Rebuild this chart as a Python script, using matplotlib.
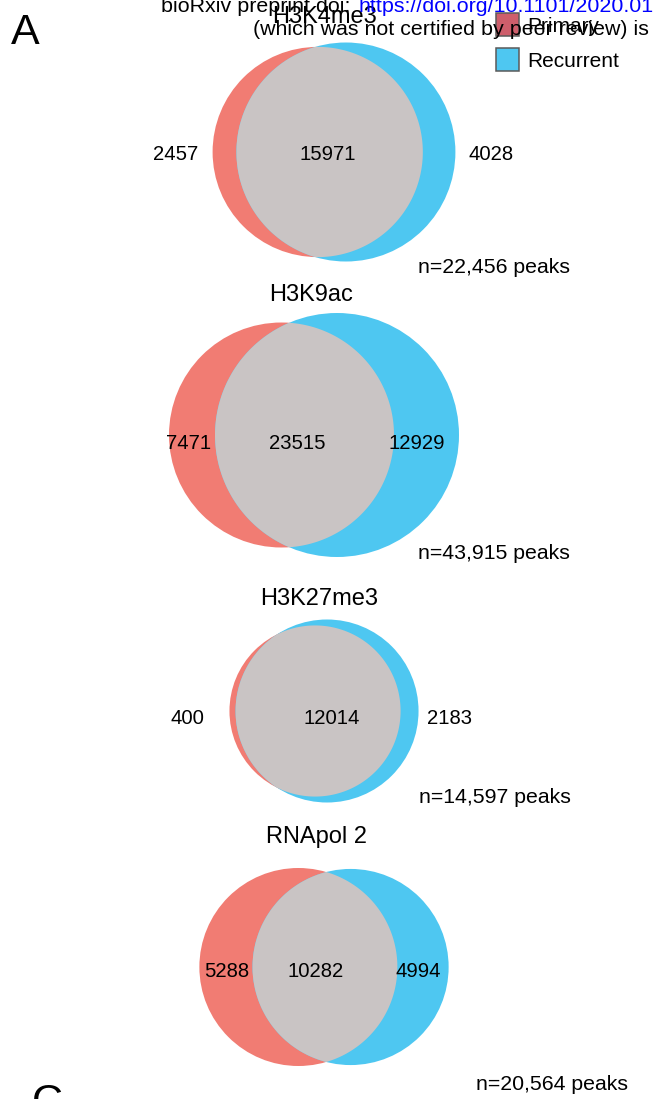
import numpy as np
import matplotlib
matplotlib.use("Agg")
import matplotlib.pyplot as plt
from matplotlib.patches import Circle, Polygon, Rectangle

plt.rcParams["font.family"] = ["Liberation Sans", "DejaVu Sans"]

# peak overlap counts for each mark (primary vs recurrent)
marks = ["H3K4me3", "H3K9ac", "H3K27me3", "RNApol 2"]
primary_only = [2457, 7471, 400, 5288]
shared = [15971, 23515, 12014, 10282]
recurrent_only = [4028, 12929, 2183, 4994]
group_names = ["Primary", "Recurrent"]

RED = "#F17C73"
BLUE = "#4EC7F1"
GREY = "#C9C4C4"
DPI = 100

# layout in pixels (y grows downwards)
panel_xy = [(334, 152), (314, 435), (324, 711), (324, 967)]
panel_h = [219, 244, 183, 198]
title_xy = [(324, 15), (311, 293), (319, 597), (316, 835)]
count_x = [(176, 328, 491), (189, 297, 417), (187, 332, 449), (227, 316, 418)]
count_y = [153, 442, 717, 970]
n_xy = [(418, 265), (418, 551), (419, 795), (476, 1082)]


def lens_area(r1, r2, d):
    if d >= r1 + r2:
        return 0.0
    if d <= abs(r1 - r2):
        return np.pi * min(r1, r2) ** 2
    a1 = r1 ** 2 * np.arccos((d ** 2 + r1 ** 2 - r2 ** 2) / (2 * d * r1))
    a2 = r2 ** 2 * np.arccos((d ** 2 + r2 ** 2 - r1 ** 2) / (2 * d * r2))
    k = np.sqrt((-d + r1 + r2) * (d + r1 - r2) * (d - r1 + r2) * (d + r1 + r2))
    return a1 + a2 - 0.5 * k


def venn_geometry(a_only, both, b_only):
    # area proportional circles, distance found by bisection
    r1 = np.sqrt((a_only + both) / np.pi)
    r2 = np.sqrt((b_only + both) / np.pi)
    lo, hi = abs(r1 - r2), r1 + r2
    for _ in range(100):
        mid = 0.5 * (lo + hi)
        if lens_area(r1, r2, mid) > both:
            lo = mid
        else:
            hi = mid
    return r1, r2, 0.5 * (lo + hi)


def cap_text(ax, x, y, s, fs, **kw):
    # place text by the middle of its capital letters
    ax.text(x, y + 0.358 * fs * DPI / 72, s, fontsize=fs, va="baseline", **kw)


fig = plt.figure(figsize=(6.53, 10.99), dpi=DPI)
ax = fig.add_axes([0, 0, 1, 1])
ax.set_xlim(0, 653)
ax.set_ylim(1099, 0)
ax.axis("off")

for i, mark in enumerate(marks):
    r1, r2, d = venn_geometry(primary_only[i], shared[i], recurrent_only[i])
    s = panel_h[i] / (2 * max(r1, r2))
    r1, r2, d = r1 * s, r2 * s, d * s
    cx, cy = panel_xy[i]
    x1 = cx - (r1 + d + r2) / 2 + r1
    x2 = x1 + d

    ax.add_patch(Circle((x1, cy), r1, fc=RED, ec="none", zorder=1))
    ax.add_patch(Circle((x2, cy), r2, fc=BLUE, ec="none", zorder=2))

    # overlap region
    a = (d ** 2 + r1 ** 2 - r2 ** 2) / (2 * d)
    h = np.sqrt(r1 ** 2 - a ** 2)
    t1 = np.arctan2(h, a)
    t2 = np.arctan2(h, d - a)
    ta = np.linspace(-t1, t1, 200)
    tb = np.linspace(np.pi - t2, np.pi + t2, 200)
    pts = np.vstack([
        np.column_stack([x1 + r1 * np.cos(ta), cy + r1 * np.sin(ta)]),
        np.column_stack([x2 + r2 * np.cos(tb), cy + r2 * np.sin(tb)]),
    ])
    ax.add_patch(Polygon(pts, closed=True, fc=GREY, ec="none", zorder=3))

    counts = [primary_only[i], shared[i], recurrent_only[i]]
    for x, c in zip(count_x[i], counts):
        cap_text(ax, x, count_y[i], str(c), 14.6, ha="center", zorder=5)

    cap_text(ax, title_xy[i][0], title_xy[i][1], mark, 17, ha="center", zorder=5)
    total = sum(counts)
    cap_text(ax, n_xy[i][0], n_xy[i][1], f"n={total:,} peaks", 15.3, ha="left", zorder=5)

# legend
legend_fc = ["#CE5E6B", BLUE]
for j, name in enumerate(group_names):
    y0 = 13 + j * 35
    ax.add_patch(Rectangle((496, y0), 23, 23, fc=legend_fc[j], ec="#5A5A5A", lw=1.1, zorder=6))
    cap_text(ax, 527, y0 + 12, name, 15, ha="left", zorder=7)

# panel letters
ax.text(11, 13, "A", fontsize=31, ha="left", va="top", zorder=8)
ax.text(32, 1083, "C", fontsize=31, ha="left", va="top", zorder=8)

# preprint header
cap_text(ax, 161, 4, "bioRxiv preprint doi: ", 15.4, ha="left", zorder=9)
cap_text(ax, 358, 4, "https://doi.org/10.1101/2020.01.", 15.4, ha="left", color="#0000FF", zorder=9)
cap_text(ax, 253, 27, "(which was not certified by peer review) is", 15.4, ha="left", zorder=9)

fig.savefig("out.png", dpi=DPI)
